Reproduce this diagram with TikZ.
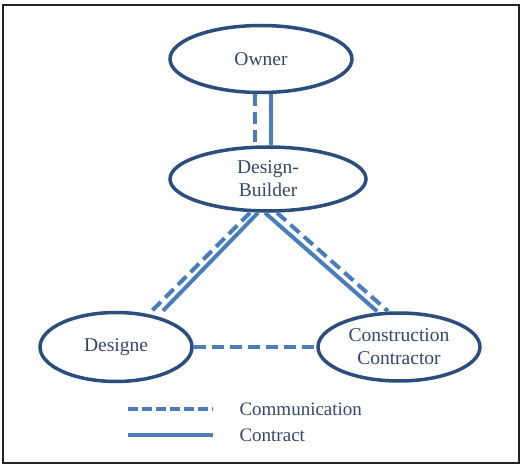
\documentclass[tikz,border=0pt]{standalone}
\usepackage{fontspec}
\setmainfont{Liberation Serif}
\usepackage{tikz}
\usetikzlibrary{shapes.geometric}
\definecolor{navy}{HTML}{2C4E7E}
\definecolor{steel}{HTML}{4A7EBB}
\definecolor{ink}{HTML}{34476B}
\definecolor{frame}{HTML}{222222}
\tikzset{
  party/.style={ellipse,draw=navy,line width=3.5pt,inner sep=0pt,align=center,
                text=ink,font=\fontsize{19.5}{23}\selectfont},
  contractline/.style={draw=steel,line width=4pt},
  commline/.style={draw=steel,line width=4pt,dash pattern=on 12pt off 6pt},
  legendtext/.style={anchor=west,text=ink,font=\fontsize{19}{22}\selectfont},
}
\begin{document}
\begin{tikzpicture}[x=1pt,y=-1pt]
  \useasboundingbox (0,0) rectangle (525,468);
  \draw[frame,line width=2pt] (3,5) rectangle (519,463);

  % parties
  \node[party,minimum width=182pt,minimum height=67pt] (own) at (261,59) {Owner};
  \node[party,minimum width=196pt,minimum height=64pt] (db) at (268,179) {Design-\\Builder};
  \node[party,minimum width=152pt,minimum height=69pt] (dsg) at (116,347) {Designe};
  \node[party,minimum width=162pt,minimum height=68pt] (cc) at (399,347) {Construction\\Contractor};

  % owner -- design-builder
  \draw[commline] ([xshift=-6pt]own.south) -- ([xshift=-13pt]db.north);
  \draw[contractline] ([xshift=10pt]own.south) -- ([xshift=3pt]db.north);

  % design-builder -- designer
  \draw[commline] ([xshift=-18pt]db.south) -- ([xshift=36pt]dsg.north);
  \draw[contractline] ([xshift=-10pt]db.south) -- ([xshift=47pt]dsg.north);

  % design-builder -- contractor
  \draw[contractline] ([xshift=-3pt]db.south) -- ([xshift=-22pt]cc.north);
  \draw[commline] ([xshift=9pt]db.south) -- ([xshift=-11pt]cc.north);

  % designer -- contractor
  \draw[commline] (dsg.east) -- (cc.west);

  % legend
  \coordinate (comA) at (128,409);
  \coordinate (comB) at (213,409);
  \coordinate (conA) at (128,435);
  \coordinate (conB) at (213,435);
  \draw[commline,dash pattern=on 10pt off 4pt] (comA) -- (comB);
  \draw[contractline] (conA) -- (conB);
  \node[legendtext] (comtext) at (236,409) {Communication};
  \node[legendtext] (context) at (236,435) {Contract};
\end{tikzpicture}
\end{document}
